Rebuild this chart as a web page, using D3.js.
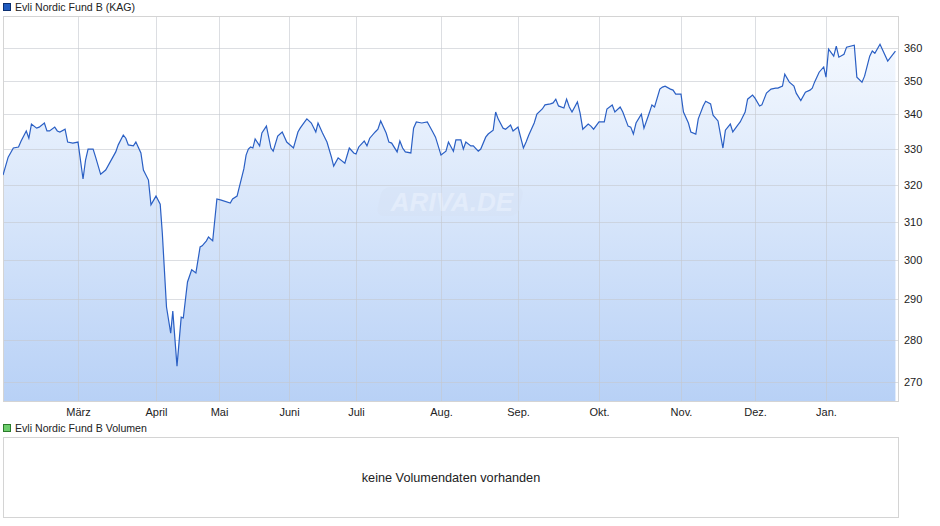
<!DOCTYPE html>
<html><head><meta charset="utf-8">
<script src="https://cdn.jsdelivr.net/npm/d3@7"></script>
<style>body{margin:0;background:#fff}svg{font-family:"Liberation Sans",Arial,sans-serif}</style>
</head><body><svg id="c" width="940" height="526"></svg>
<script>
const seriesName = "Evli Nordic Fund B (KAG)";
const volumeName = "Evli Nordic Fund B Volumen";
const noVolumeText = "keine Volumendaten vorhanden";
const monthLabels = ["März","April","Mai","Juni","Juli","Aug.","Sep.","Okt.","Nov.","Dez.","Jan."];
const monthStarts = ["2025-03-01","2025-04-01","2025-05-01","2025-06-01","2025-07-01","2025-08-01","2025-09-01","2025-10-01","2025-11-01","2025-12-01","2026-01-01"];
const yTicks = [270,280,290,300,310,320,330,340,350,360];
const dates = ["2025-01-31","2025-02-02","2025-02-04","2025-02-06","2025-02-07","2025-02-09","2025-02-10","2025-02-11","2025-02-13","2025-02-14","2025-02-16","2025-02-17","2025-02-18","2025-02-20","2025-02-21","2025-02-22","2025-02-24","2025-02-25","2025-02-27",
"2025-03-01","2025-03-03","2025-03-04","2025-03-05","2025-03-07","2025-03-08","2025-03-10","2025-03-12","2025-03-16","2025-03-17","2025-03-19","2025-03-20","2025-03-21","2025-03-23","2025-03-24","2025-03-26","2025-03-27","2025-03-29","2025-03-30",
"2025-04-01","2025-04-03","2025-04-04","2025-04-06","2025-04-08","2025-04-09","2025-04-11","2025-04-13","2025-04-14","2025-04-16","2025-04-18","2025-04-20","2025-04-22","2025-04-23","2025-04-25","2025-04-26","2025-04-28","2025-04-30",
"2025-05-02","2025-05-06","2025-05-07","2025-05-09","2025-05-12","2025-05-13","2025-05-14","2025-05-15","2025-05-16","2025-05-17","2025-05-19","2025-05-20","2025-05-22","2025-05-24","2025-05-25","2025-05-27","2025-05-29","2025-05-31",
"2025-06-03","2025-06-05","2025-06-06","2025-06-08","2025-06-09","2025-06-11","2025-06-13","2025-06-14","2025-06-16","2025-06-18","2025-06-20","2025-06-21","2025-06-23","2025-06-26","2025-06-28","2025-06-30",
"2025-07-01","2025-07-02","2025-07-04","2025-07-05","2025-07-06","2025-07-08","2025-07-09","2025-07-10","2025-07-12","2025-07-13","2025-07-14","2025-07-16","2025-07-17","2025-07-18","2025-07-19","2025-07-21","2025-07-22","2025-07-23","2025-07-25","2025-07-27","2025-07-29","2025-07-30",
"2025-08-01","2025-08-03","2025-08-04","2025-08-06","2025-08-07","2025-08-09","2025-08-10","2025-08-11","2025-08-13","2025-08-14","2025-08-16","2025-08-17","2025-08-19","2025-08-20","2025-08-22","2025-08-23","2025-08-24","2025-08-26","2025-08-27","2025-08-29","2025-08-30",
"2025-09-01","2025-09-03","2025-09-04","2025-09-05","2025-09-07","2025-09-08","2025-09-10","2025-09-11","2025-09-13","2025-09-14","2025-09-15","2025-09-16","2025-09-18","2025-09-19","2025-09-20","2025-09-21","2025-09-23","2025-09-24","2025-09-25","2025-09-27","2025-09-28","2025-09-29",
"2025-10-01","2025-10-03","2025-10-04","2025-10-06","2025-10-07","2025-10-09","2025-10-10","2025-10-12","2025-10-13","2025-10-14","2025-10-15","2025-10-17","2025-10-18","2025-10-20","2025-10-21","2025-10-22","2025-10-24","2025-10-25","2025-10-26","2025-10-28","2025-10-29","2025-10-30",
"2025-11-01","2025-11-02","2025-11-04","2025-11-05","2025-11-07","2025-11-08","2025-11-10","2025-11-11","2025-11-13","2025-11-14","2025-11-16","2025-11-18","2025-11-19","2025-11-21","2025-11-22","2025-11-24","2025-11-25","2025-11-27","2025-11-28","2025-11-30",
"2025-12-01","2025-12-03","2025-12-04","2025-12-06","2025-12-08","2025-12-10","2025-12-11","2025-12-13","2025-12-14","2025-12-16","2025-12-18","2025-12-19","2025-12-21","2025-12-23","2025-12-25","2025-12-26","2025-12-27","2025-12-29","2025-12-31",
"2026-01-01","2026-01-02","2026-01-04","2026-01-05","2026-01-06","2026-01-08","2026-01-09","2026-01-12","2026-01-13","2026-01-15","2026-01-16","2026-01-18","2026-01-19","2026-01-20","2026-01-22","2026-01-25","2026-01-28"];
const values = [322.7,327.7,330.3,330.6,332.3,335.2,333.1,337.2,336.0,336.3,337.5,335.2,335.2,336.3,335.2,334.9,335.7,332.0,331.7,
332.0,321.6,326.9,330.0,330.0,327.7,322.9,324.1,329.2,331.2,334.0,333.1,331.2,330.9,332.0,328.9,324.1,321.3,314.5,
316.9,314.7,307.0,288.0,281.6,287.0,273.7,285.5,285.3,294.3,297.4,296.6,303.3,303.6,304.9,305.9,304.9,316.1,
315.8,315.0,316.1,316.9,324.4,328.3,330.0,330.6,330.3,332.9,330.9,334.6,336.6,330.3,329.4,333.7,334.9,332.0,
330.3,334.9,336.0,337.8,338.7,337.5,334.9,337.5,334.6,332.0,327.7,325.2,327.5,326.0,330.3,328.9,
328.6,330.6,332.3,330.9,333.1,334.9,335.7,338.1,334.6,332.0,331.7,329.2,332.3,330.3,329.2,328.9,336.0,337.8,337.5,337.8,334.9,333.4,
328.3,329.4,332.0,329.4,332.6,332.6,330.0,332.0,330.9,330.9,329.4,330.0,333.4,334.3,335.4,340.7,338.7,336.0,335.7,336.9,335.2,
336.3,330.3,332.0,334.0,337.5,340.1,341.6,342.8,343.1,343.4,344.5,342.5,341.9,344.5,342.2,340.7,343.7,340.4,335.7,337.2,336.6,335.7,
337.8,337.8,341.6,342.8,340.7,342.2,340.7,336.6,336.3,334.3,337.5,340.1,336.0,340.4,342.8,342.2,347.5,348.1,348.4,347.5,347.2,346.0,
346.0,340.7,337.5,334.9,334.3,338.7,342.5,343.9,343.1,339.8,338.1,330.3,335.4,337.2,334.9,336.9,337.8,340.7,344.5,345.7,
344.8,342.5,342.8,346.3,347.5,347.8,347.8,348.4,352.0,349.6,348.4,346.3,344.1,346.6,347.2,347.8,349.6,352.6,354.2,
351.1,359.7,357.5,360.6,357.2,358.1,360.3,360.9,351.1,349.6,351.4,357.5,359.1,358.4,361.2,356.0,359.1];

const P = d3.timeParse("%Y-%m-%d");
const data = dates.map((d,i)=>({d:P(d),v:values[i]}));
const svg = d3.select("#c");
const L=3,R=898,T=16,B=401;
const x = d3.scaleTime()
  .domain([P("2025-01-31"),...monthStarts.map(P),P("2026-01-29")])
  .range([L,78,156,219,289,356,441,518,599,681,755,826,R]);
const y = d3.scaleLog().domain([265.6,370.1]).range([B,T]);

const defs = svg.append("defs");
const g1 = defs.append("linearGradient").attr("id","fillg").attr("x1",0).attr("x2",0)
  .attr("gradientUnits","userSpaceOnUse").attr("y1",T).attr("y2",B);
g1.append("stop").attr("offset",0).attr("stop-color","#f8fbff");
g1.append("stop").attr("offset",1).attr("stop-color","#b8d1f6");
defs.append("clipPath").attr("id","clip").append("rect").attr("x",L).attr("y",T).attr("width",R-L).attr("height",B-T);

svg.append("path").datum(data).attr("clip-path","url(#clip)")
  .attr("d",d3.area().x(d=>x(d.d)).y0(B).y1(d=>y(d.v))).attr("fill","url(#fillg)");

const grid = svg.append("g").attr("stroke","#c4c8cf").attr("stroke-opacity",0.6).attr("stroke-width",1);
yTicks.forEach(t=>grid.append("line").attr("x1",L).attr("x2",R).attr("y1",Math.round(y(t))+0.5).attr("y2",Math.round(y(t))+0.5));
monthStarts.forEach(m=>grid.append("line").attr("y1",T).attr("y2",B).attr("x1",Math.round(x(P(m)))+0.5).attr("x2",Math.round(x(P(m)))+0.5));
svg.append("rect").attr("x",L+0.5).attr("y",T+0.5).attr("width",R-L).attr("height",B-T).attr("fill","none").attr("stroke","#d4d4d4");

const wm = svg.append("g").attr("opacity",0.45);
wm.append("rect").attr("x",380).attr("y",187).attr("width",142).attr("height",29).attr("rx",8).attr("fill","#d6e2f5").attr("transform","translate(42,0) skewX(-12)");
wm.append("text").attr("x",452).attr("y",211).attr("text-anchor","middle").attr("font-size",26).attr("font-style","italic").attr("font-weight","bold").attr("fill","#f0f4fb").text("ARIVA.DE");

svg.append("path").datum(data).attr("clip-path","url(#clip)")
  .attr("d",d3.line().x(d=>x(d.d)).y(d=>y(d.v))).attr("fill","none").attr("stroke","#2a5fc4").attr("stroke-width",1.2);

const ya = svg.append("g").attr("transform",`translate(${R},0)`)
  .call(d3.axisRight(y).tickValues(yTicks).tickFormat(d3.format("d")).tickSize(0).tickPadding(6));
ya.select(".domain").remove();
ya.selectAll("text").attr("font-size",11).attr("fill","#222").attr("font-family","Liberation Sans, Arial");

const xa = svg.append("g").attr("transform",`translate(0,${B})`)
  .call(d3.axisBottom(x).tickValues(monthStarts.map(P)).tickFormat((d,i)=>monthLabels[i]).tickSize(0).tickPadding(7));
xa.select(".domain").remove();
xa.selectAll("text").attr("font-size",11).attr("fill","#222").attr("font-family","Liberation Sans, Arial");

svg.append("rect").attr("x",3.5).attr("y",3.5).attr("width",7).attr("height",7).attr("fill","#1f5bbf").attr("stroke","#0c2f70");
svg.append("text").attr("x",15).attr("y",11).attr("font-size",10.6).attr("fill","#222").text(seriesName);
svg.append("rect").attr("x",3.5).attr("y",424.5).attr("width",7).attr("height",7).attr("fill","#6ccd6c").attr("stroke","#2b7a2b");
svg.append("text").attr("x",15).attr("y",432).attr("font-size",10.6).attr("fill","#222").text(volumeName);

svg.append("rect").attr("x",L+0.5).attr("y",437.5).attr("width",R-L).attr("height",80).attr("fill","#fff").attr("stroke","#d4d4d4");
svg.append("text").attr("x",451).attr("y",482).attr("text-anchor","middle").attr("font-size",12.7).attr("fill","#222").text(noVolumeText);
</script></body></html>
